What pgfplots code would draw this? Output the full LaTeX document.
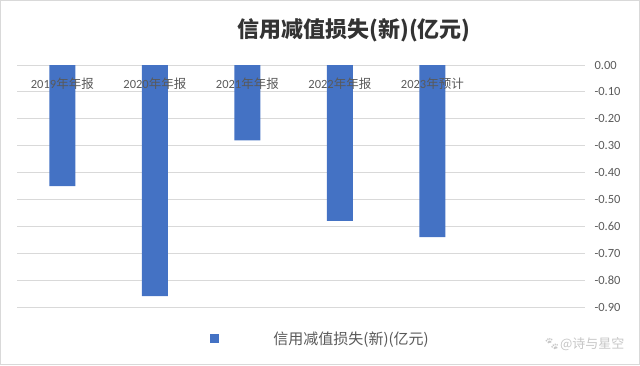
\documentclass[border=0pt]{standalone}
\usepackage{pgfplots}
\pgfplotsset{compat=1.18}
\usepackage{fontspec}
\setmainfont{Carlito}
\newfontfamily\cjk{Noto Sans CJK SC}
\newfontfamily\emoji{Noto Emoji}
\definecolor{barblue}{HTML}{4472C4}
\definecolor{txtgray}{HTML}{595959}
\definecolor{gridgray}{HTML}{D9D9D9}
\pgfplotsset{
  layers/mylayers/.define layer set={axis background,axis grid,axis ticks,axis lines,pre main,main,axis tick labels,axis descriptions,axis foreground}{
    grid style={/pgfplots/on layer=axis grid},
    tick style={/pgfplots/on layer=axis ticks},
    axis line style={/pgfplots/on layer=axis lines},
    label style={/pgfplots/on layer=axis descriptions},
    legend style={/pgfplots/on layer=axis descriptions},
    title style={/pgfplots/on layer=axis descriptions},
    colorbar style={/pgfplots/on layer=axis descriptions},
    ticklabel style={/pgfplots/on layer=axis tick labels},
    deselected/.style={/pgfplots/on layer=axis background},
  },
}
\begin{document}
\begin{tikzpicture}[x=1pt,y=1pt]
\path (0,0) rectangle (640,365);
\draw[gridgray, line width=0.8pt] (0.5,0.5) rectangle (639.5,364.5);
\begin{axis}[
  set layers=mylayers,
  at={(17pt,58pt)}, anchor=south west,
  scale only axis, width=568pt, height=242pt,
  ymin=-0.9, ymax=0, xmin=-0.49, xmax=5.65,
  ybar, bar width=26pt,
  axis line style={draw=none},
  major tick length=0pt,
  ymajorgrids, grid style={gridgray, line width=0.8pt},
  ytick={-0.9,-0.8,-0.7,-0.6,-0.5,-0.4,-0.3,-0.2,-0.1,0},
  yticklabel pos=right,
  yticklabel style={anchor=west, xshift=6pt, font=\fontsize{12.5}{13}\selectfont, text=txtgray,
    /pgf/number format/.cd, fixed, fixed zerofill, precision=2, assume math mode=true},
  xtick={0,1,2,3,4},
  xticklabels={{2019\cjk 年年报},{2020\cjk 年年报},{2021\cjk 年年报},{2022\cjk 年年报},{2023\cjk 年预计}},
  xticklabel pos=upper,
  xticklabel style={anchor=north, yshift=-9pt, font=\fontsize{12.5}{13}\selectfont, text=txtgray},
  legend style={at={(0.335,-0.132)}, anchor=west, draw=none, fill=none,
    font=\cjk\fontsize{15}{16}\selectfont, text=txtgray},
]
\addplot[fill=barblue, draw=none,
  legend image code/.code={\fill[barblue] (0pt,-4.5pt) rectangle (9pt,4.5pt); \path[draw=none,fill=none] (0pt,0pt) -- (61pt,0pt);}]
  coordinates {(0,-0.45) (1,-0.86) (2,-0.28) (3,-0.58) (4,-0.64)};
\addlegendentry{信用减值损失(新)(亿元)}
\end{axis}
\node[font=\cjk\bfseries\fontsize{22}{24}\selectfont, text=black!80] at (354,335) {信用减值损失(新)(亿元)};
\node[anchor=east, text=gray!45, font=\cjk\fontsize{13}{14}\selectfont] at (628,21) {{\emoji 🐾}@诗与星空};
\end{tikzpicture}
\end{document}
